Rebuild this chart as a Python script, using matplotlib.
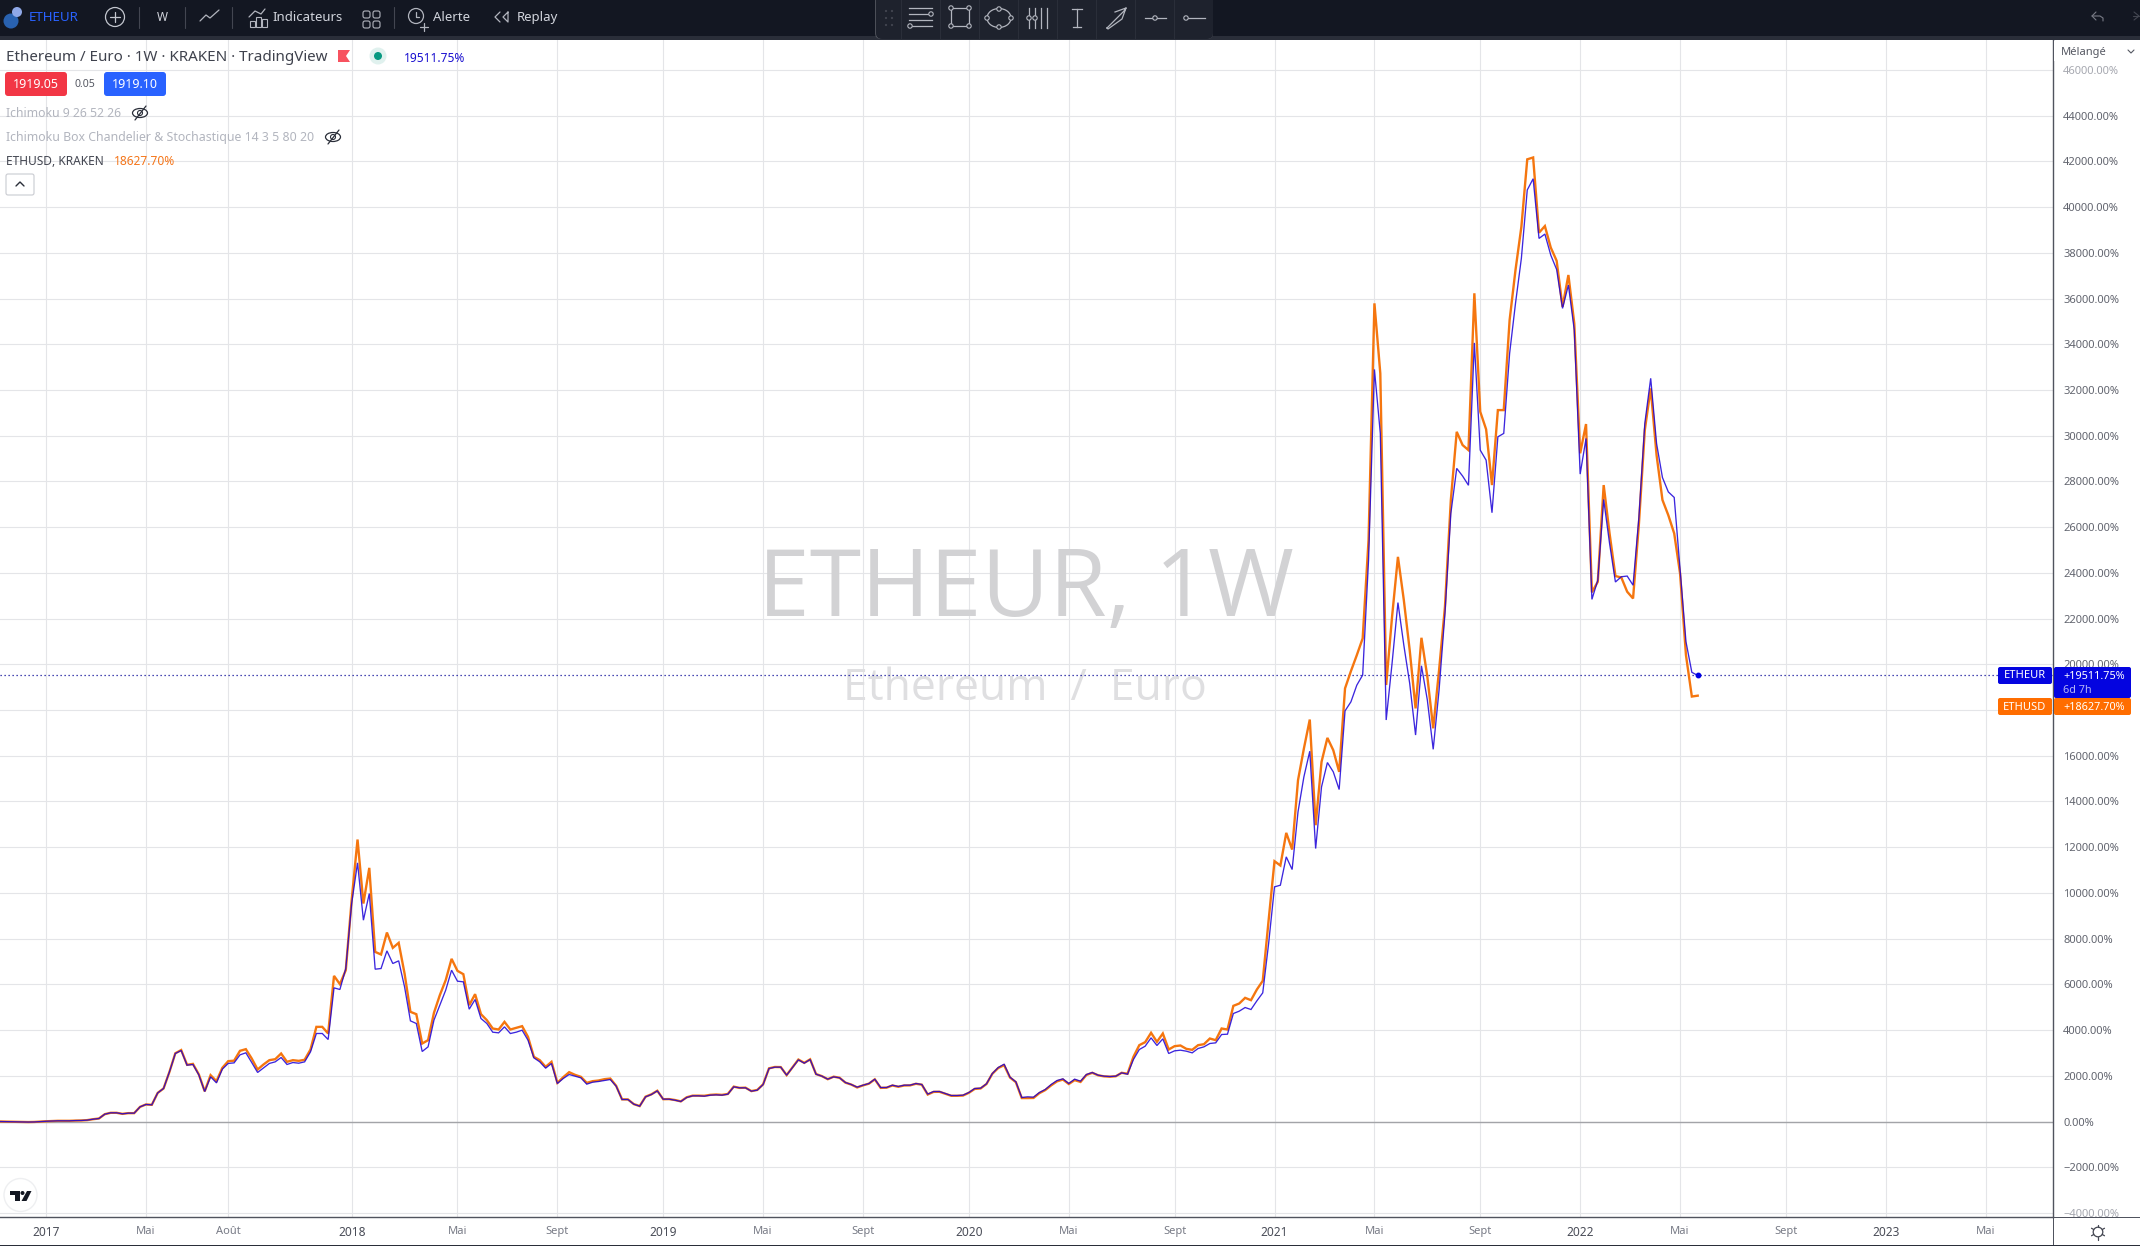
import numpy as np
import matplotlib
matplotlib.use("Agg")
import matplotlib.pyplot as plt
from matplotlib.patches import Rectangle, Circle, FancyBboxPatch, Ellipse, Polygon

plt.rcParams['font.family'] = ['Noto Sans', 'DejaVu Sans']

# ---------- data (week index 0 = first week of 2017) ----------
weeks = np.arange(-8, 282)

etheur = [
    0, -5, -10, -15, -20, -25, -20, -5,
    10, 20, 30, 30, 30, 40, 45, 60, 100, 130,
    320, 380, 380, 335, 365, 365, 640, 745, 730, 1250,
    1445, 2170, 2975, 3105, 2465, 2495, 2040, 1310, 1955, 1690,
    2290, 2540, 2565, 2915, 3005, 2580, 2145, 2345, 2540, 2610,
    2800, 2495, 2580, 2550, 2610, 3047, 3850, 3850, 3587, 5847,
    5774, 6692, 9535, 11314, 8806, 9973, 6663, 6692, 7465, 6911,
    7028, 5890, 4403, 4287, 3062, 3266, 4432, 5088, 5745, 6619,
    6138, 6109, 4913, 5336, 4505, 4287, 3907, 3878, 4141, 3849,
    3907, 3995, 3557, 2785, 2610, 2333, 2537, 1662, 1881, 2056,
    1983, 1910, 1633, 1720, 1750, 1793, 1837, 1545, 962, 962,
    758, 671, 1079, 1181, 1341, 977, 977, 933, 875, 1050,
    1123, 1123, 1108, 1152, 1166, 1152, 1196, 1516, 1473, 1473,
    1327, 1371, 1618, 2318, 2377, 2377, 2027, 2362, 2697, 2552,
    2712, 2070, 1983, 1852, 1954, 1910, 1706, 1618, 1502, 1589,
    1662, 1852, 1487, 1487, 1589, 1531, 1589, 1589, 1662, 1618,
    1196, 1312, 1312, 1225, 1137, 1137, 1152, 1268, 1443, 1458,
    1648, 2100, 2362, 2508, 1939, 1735, 1050, 1079, 1064, 1268,
    1400, 1618, 1793, 1866, 1662, 1852, 1764, 2056, 2143, 2027,
    1983, 1968, 1983, 2129, 2070, 2712, 3149, 3295, 3660, 3324,
    3616, 2974, 3091, 3120, 3076, 3003, 3193, 3266, 3412, 3441,
    3805, 3820, 4724, 4826, 4986, 4899, 5278, 5628, 7786, 10264,
    10337, 11577, 11022, 13545, 15076, 16198, 11941, 14638, 15703, 15295,
    14522, 17963, 18357, 19085, 19530, 24560, 32900, 30100, 17563, 20040,
    22700, 20840, 19165, 16905, 19935, 18440, 16280, 18880, 22230, 26600,
    28570, 28235, 27830, 34060, 29370, 28930, 26630, 29950, 30100, 33600,
    35790, 37760, 40750, 41240, 38630, 38820, 37900, 37270, 35570, 36590,
    34620, 28320, 29880, 22840, 23680, 27210, 25290, 23600, 23830, 23860,
    23460, 26450, 30540, 32510, 29660, 28170, 27540, 27300, 24130, 20990,
    19650, 19511.75,
]

ethusd = [
    0, -5, -10, -15, -20, -25, -20, -5,
    10, 20, 30, 30, 30, 40, 45, 60, 100, 130,
    320, 380, 380, 335, 365, 365, 640, 745, 730, 1250,
    1445, 2170, 2985, 3125, 2480, 2520, 2060, 1320, 2027, 1764,
    2348, 2640, 2660, 3091, 3164, 2755, 2274, 2493, 2683, 2726,
    2974, 2610, 2683, 2653, 2700, 3150, 4140, 4140, 3850, 6370,
    6007, 6620, 9680, 12335, 9535, 11095, 7420, 7305, 8267, 7596,
    7815, 6474, 4797, 4695, 3412, 3558, 4753, 5526, 6182, 7115,
    6590, 6444, 5088, 5570, 4695, 4432, 4068, 4024, 4359, 4024,
    4097, 4170, 3703, 2829, 2683, 2391, 2610, 1691, 1939, 2158,
    2041, 1954, 1691, 1764, 1793, 1852, 1880, 1560, 970, 965,
    760, 675, 1085, 1190, 1345, 975, 980, 940, 880, 1060,
    1130, 1130, 1125, 1165, 1180, 1165, 1205, 1525, 1470, 1480,
    1330, 1380, 1625, 2325, 2385, 2380, 2030, 2370, 2710, 2565,
    2720, 2075, 1985, 1850, 1960, 1915, 1700, 1615, 1490, 1580,
    1655, 1845, 1470, 1480, 1575, 1520, 1575, 1580, 1650, 1610,
    1180, 1295, 1300, 1210, 1125, 1125, 1135, 1255, 1425, 1445,
    1640, 2090, 2340, 2465, 1925, 1720, 1025, 1025, 1030, 1240,
    1375, 1580, 1755, 1835, 1640, 1810, 1730, 2035, 2130, 2020,
    1975, 1960, 1980, 2130, 2090, 2830, 3340, 3470, 3880, 3485,
    3850, 3150, 3295, 3325, 3178, 3135, 3339, 3382, 3630, 3557,
    4068, 4024, 5059, 5161, 5409, 5307, 5773, 6153, 8806, 11387,
    11197, 12626, 11897, 14930, 16315, 17583, 12962, 15732, 16781, 16242,
    15295, 18947, 19700, 20400, 21134, 25435, 35790, 32725, 19095, 22080,
    24700, 22810, 20620, 18070, 21160, 19460, 17200, 19750, 22520, 27190,
    30170, 29590, 29370, 36230, 31050, 30280, 27840, 31120, 31120, 35060,
    37250, 39140, 42090, 42170, 38880, 39170, 38230, 37650, 35640, 37030,
    34910, 29230, 30510, 23150, 23610, 27840, 25730, 23860, 23800, 23175,
    22880, 26160, 30250, 32070, 29150, 27190, 26520, 25725, 23970, 20400,
    18590, 18627.70,
]

x_tick_weeks = [0, 17, 31, 52, 70, 87, 105, 122, 139, 157, 174, 192, 209, 226, 244, 261, 278, 296, 313, 330]
x_tick_labels = ['2017', 'Mai', 'Août', '2018', 'Mai', 'Sept', '2019', 'Mai', 'Sept', '2020',
                 'Mai', 'Sept', '2021', 'Mai', 'Sept', '2022', 'Mai', 'Sept', '2023', 'Mai']
y_ticks = list(range(-4000, 46001, 2000))

# ---------- geometry ----------
W, H = 2140, 1246
PANE_R, PANE_T, PANE_B = 2053, 40, 1217
X0, DX = 46.0, 5.878      # pixel of week 0, pixels per week
Y0, DY = 1121.5, 45.72    # pixel of 0 %, pixels per 2000 %

fig = plt.figure(figsize=(W / 100, H / 100), dpi=100, facecolor='white')
ax = fig.add_axes([0, (H - PANE_B) / H, PANE_R / W, (PANE_B - PANE_T) / H])
ax.set_xlim((0 - X0) / DX, (PANE_R - X0) / DX)
ax.set_ylim((Y0 - PANE_B) / DY * 2000, (Y0 - PANE_T) / DY * 2000)

GRID = '#e4e5e8'
ax.set_xticks(x_tick_weeks)
ax.set_xticklabels(x_tick_labels)
ax.set_yticks(y_ticks)
ax.set_yticklabels([(f'{v:.2f}%' if v >= 0 else f'\u2212{-v:.2f}%') for v in y_ticks])
ax.yaxis.tick_right()
ax.grid(True, color=GRID, lw=0.8)
ax.set_axisbelow(True)
ax.tick_params(axis='y', length=0, pad=7.2, labelsize=8, labelcolor='#62656f')
ax.tick_params(axis='x', length=0, pad=6.4, labelsize=8, labelcolor='#787b86')
for lab in ax.get_xticklabels():
    if lab.get_text().isdigit():
        lab.set_color('#4a4d58')
        lab.set_fontsize(8.6)
for lab in ax.get_yticklabels():
    if lab.get_text() in ('46000.00%', '\u22124000.00%'):
        lab.set_color('#a6a8b0')
for s in ('top', 'left'):
    ax.spines[s].set_visible(False)
for s in ('bottom', 'right'):
    ax.spines[s].set_color('#50535e')
    ax.spines[s].set_linewidth(1.0)

ax.axhline(0, color='#a3a4a8', lw=1.0, zorder=1.5)

# watermark
ax.text(1026 / PANE_R, 1 - (592 - PANE_T) / (PANE_B - PANE_T), 'ETHEUR, 1W', transform=ax.transAxes,
        ha='center', va='center', fontsize=67, color='#d2d2d4', fontweight='medium',
        family=['Open Sans', 'DejaVu Sans'], zorder=1.6)
ax.text(1025 / PANE_R, 1 - (689 - PANE_T) / (PANE_B - PANE_T), 'Ethereum  /  Euro', transform=ax.transAxes,
        ha='center', va='center', fontsize=32, color='#dfdfe1', family=['Open Sans', 'DejaVu Sans'], zorder=1.6)

BLUE = '#0000e6'
ORANGE = '#f5760f'
ax.plot(weeks, ethusd, color=ORANGE, lw=1.7, solid_joinstyle='miter', zorder=3)
ax.plot(weeks, etheur, color='#1a00d8', lw=0.95, alpha=0.85, solid_joinstyle='miter', zorder=4)
ax.axhline(etheur[-1], color='#10109a', lw=0.9, ls=(0, (1, 2.2)), zorder=2.5)
ax.plot(weeks[-1], etheur[-1], 'o', color=BLUE, ms=3.2, zorder=5)

# ---------- UI overlay in pixel coordinates ----------
ui = fig.add_axes([0, 0, 1, 1], facecolor='none')
ui.set_xlim(0, W)
ui.set_ylim(H, 0)
ui.axis('off')
ui.set_zorder(10)


def T(x, y, s, size=8, color='#434651', ha='left', weight='normal', **kw):
    ui.text(x, y + 1.5, s, fontsize=size, color=color, ha=ha, va='center', fontweight=weight, **kw)


def L(xs, ys, color='#b2b5be', lw=0.9):
    ui.plot(xs, ys, color=color, lw=lw, solid_capstyle='round')


def box(x0, y0, x1, y1, fc, r=3, ec='none', lw=0, z=2):
    ui.add_patch(FancyBboxPatch((x0 + r, y0 + r), x1 - x0 - 2 * r, y1 - y0 - 2 * r,
                                boxstyle=f'round,pad={r},rounding_size={r}', fc=fc, ec=ec, lw=lw, zorder=z))


# top bar
ui.add_patch(Rectangle((0, 0), W, 36, fc='#131722', ec='none'))
ui.add_patch(Rectangle((0, 36), W, 4, fc='#2a2e39', ec='none'))
ui.add_patch(Circle((11, 21), 7.5, fc='#2962b0', ec='none'))
ui.add_patch(Circle((17, 12), 5, fc='#8fa8e8', ec='none'))
T(29, 16, 'ETHEUR', 9.6, '#2962ff', weight='bold')
ui.add_patch(Circle((115, 17), 9.5, fc='none', ec='#c3c6ce', lw=0.9))
L([110, 120], [17, 17], '#c3c6ce')
L([115, 115], [12, 22], '#c3c6ce')
for sx in (139, 185, 232, 394):
    L([sx, sx], [7, 28], '#434651', 0.8)
T(162, 16, 'W', 8.5, '#d1d4dc', ha='center')
L([200, 206, 210, 219], [21, 15, 18, 10], '#b2b5be')
L([249, 255, 261, 265], [17, 11, 14, 9], '#b2b5be')
for rx, ry, rh in ((250, 21, 6), (256, 17, 10), (262, 19, 8)):
    ui.add_patch(Rectangle((rx, ry), 5, rh, fc='none', ec='#b2b5be', lw=0.8))
T(272, 16, 'Indicateurs', 9.5, '#d1d4dc')
for gx in (364, 374):
    for gy in (13, 23):
        ui.add_patch(FancyBboxPatch((gx, gy - 1), 5, 5, boxstyle='round,pad=1,rounding_size=2', fc='none', ec='#b2b5be', lw=0.8))
ui.add_patch(Circle((416, 16), 7.5, fc='none', ec='#b2b5be', lw=0.9))
L([416, 416, 419], [12, 17, 17])
L([424, 424], [23, 31])
L([420, 428], [27, 27])
T(433, 16, 'Alerte', 9.5, '#d1d4dc')
L([500, 495, 500], [12, 17, 22])
L([508, 503, 508, 508], [12, 17, 22, 12])
T(517, 16, 'Replay', 9.5, '#d1d4dc')
L([2096, 2092, 2096], [12, 16, 20], '#787b86', 0.8)
L([2092, 2100, 2103, 2103], [16, 16, 18, 21], '#787b86', 0.8)
L([2133, 2139], [16, 16], '#434651', 0.8)
L([2134, 2139, 2134], [12, 16, 20], '#434651', 0.8)

# floating drawing toolbar
ui.add_patch(FancyBboxPatch((880, 0), 328, 34, boxstyle='round,pad=5,rounding_size=6', fc='#b9babd', ec='none', alpha=0.35, zorder=2))
box(876, -6, 1213, 39, '#1e222d', r=6, z=3)
for k in range(8):
    ui.plot([901 + 39 * k] * 2, [0, 38], color='#2a2e39', lw=0.8, zorder=4)
for dx in (886, 892):
    for dy in (11, 18, 25):
        ui.add_patch(Circle((dx, dy), 1.1, fc='#434651', ec='none', zorder=4))
IC = '#b2b5be'


def Z(xs, ys):
    ui.plot(xs, ys, color=IC, lw=0.9, zorder=5)


def dot(x, y):
    ui.add_patch(Circle((x, y), 2.2, fc='#1e222d', ec=IC, lw=0.8, zorder=6))


for yy, x1 in ((8, 932), (14, 930), (20, 932), (26, 932)):
    Z([909, x1], [yy, yy])
dot(931, 14)
dot(910, 26)
Z([951, 951, 969, 969, 951], [8, 26, 26, 8, 8])
for p in ((951, 8), (969, 8), (951, 26), (969, 26)):
    dot(*p)
ui.add_patch(Ellipse((999, 18), 24, 19, fc='none', ec=IC, lw=0.9, zorder=5))
for p in ((999, 9), (999, 27), (987, 18), (1011, 18)):
    dot(*p)
for vx in (1029, 1035, 1041, 1047):
    Z([vx, vx], [8, 28])
dot(1029, 18)
dot(1035, 18)
Z([1077, 1077], [9, 27])
Z([1072, 1082], [9, 9])
Z([1073, 1081], [27, 27])
Z([1107, 1124, 1126, 1122, 1108, 1107], [28, 11, 8, 19, 29, 28])
Z([1115, 1126], [12, 8])
Z([1145, 1166], [18, 18])
dot(1155, 18)
Z([1185, 1205], [18, 18])
dot(1186, 18)

# legend block
T(6, 56, 'Ethereum / Euro · 1W · KRAKEN · TradingView', 10.9, '#3f424d')
ui.add_patch(Polygon([(338, 50), (350, 50), (346, 56), (350, 62), (338, 62)], fc='#f7525f', ec='none'))
ui.add_patch(Circle((378, 56), 8.5, fc='#e0f1ee', ec='none'))
ui.add_patch(Circle((378, 56), 4, fc='#089981', ec='none'))
T(404, 57, '19511.75%', 8.6, '#1a10d0')
box(5, 72, 67, 96, '#f23645')
T(36, 83, '1919.05', 9.0, 'white', ha='center')
T(85, 83, '0.05', 7.6, '#555862', ha='center')
box(104, 72, 166, 96, '#2962ff')
T(135, 83, '1919.10', 9.0, 'white', ha='center')
T(6, 112, 'Ichimoku 9 26 52 26', 8.8, '#b2b5be')
T(6, 136, 'Ichimoku Box Chandelier & Stochastique 14 3 5 80 20', 8.85, '#b2b5be')
for ex, ey in ((140, 113), (333, 137)):
    ui.add_patch(Ellipse((ex, ey), 15, 9, fc='none', ec='#2a2e39', lw=0.9))
    ui.add_patch(Circle((ex, ey), 2.5, fc='none', ec='#2a2e39', lw=0.8))
    L([ex - 5, ex + 6], [ey + 7, ey - 7], '#2a2e39', 0.9)
T(6, 160, 'ETHUSD, KRAKEN', 8.6, '#434651')
T(114, 160, '18627.70%', 8.6, '#f5761a')
box(6, 174, 34, 195, 'white', r=2, ec='#c9cbd1', lw=0.8)
L([16, 20, 24], [186, 182, 186], '#2a2e39', 1.0)

# right-side price labels
ui.add_patch(Rectangle((PANE_R + 1, 41), W - PANE_R - 1, 20, fc='white', ec='none'))
T(2061, 51, 'Mélangé', 8, '#555862')
L([2128, 2131, 2134], [50, 53, 50], '#555862', 0.8)
box(1998, 667, 2052, 684, '#0404e0', r=2)
T(2025, 674.5, 'ETHEUR', 8, 'white', ha='center')
box(2054, 667, 2131, 698, '#0404e0', r=2)
T(2063, 675, '+19511.75%', 7.8, 'white', weight='medium')
T(2063, 689, '6d 7h', 7.8, '#b4b4f5')
box(1998, 698, 2052, 715, '#ff6d00', r=2)
T(2025, 705.5, 'ETHUSD', 8, 'white', ha='center')
box(2054, 698, 2131, 715, '#ff6d00', r=2)
T(2063, 705.5, '+18627.70%', 7.8, 'white', weight='medium')

# bottom edge, settings icon, logo
ui.add_patch(Rectangle((PANE_R, 1217), W - PANE_R, 1, fc='#50535e', ec='none'))
ui.add_patch(Rectangle((PANE_R - 0.5, 1217), 1, 29, fc='#50535e', ec='none'))
ui.add_patch(Rectangle((0, 1244.6), W, 1.4, fc='#2a2e39', ec='none'))
ui.add_patch(Circle((2098, 1232), 4.8, fc='none', ec='#434651', lw=0.9))
for a in np.deg2rad(np.arange(0, 360, 60) + 30):
    L([2098 + 5 * np.cos(a), 2098 + 7.5 * np.cos(a)], [1232 + 5 * np.sin(a), 1232 + 7.5 * np.sin(a)], '#434651', 0.9)
ui.add_patch(Circle((20.5, 1195), 16.5, fc='white', ec='#eeeff1', lw=1.0))
ui.add_patch(Polygon([(10, 1191), (19.5, 1191), (19.5, 1201), (14.5, 1201), (14.5, 1195), (10, 1195)], fc='#131722', ec='none'))
ui.add_patch(Circle((22.5, 1193), 2, fc='#131722', ec='none'))
ui.add_patch(Polygon([(27, 1191), (31.5, 1191), (26.5, 1201), (21.5, 1201)], fc='#131722', ec='none'))

fig.savefig('out.png', dpi=100, facecolor='white')
